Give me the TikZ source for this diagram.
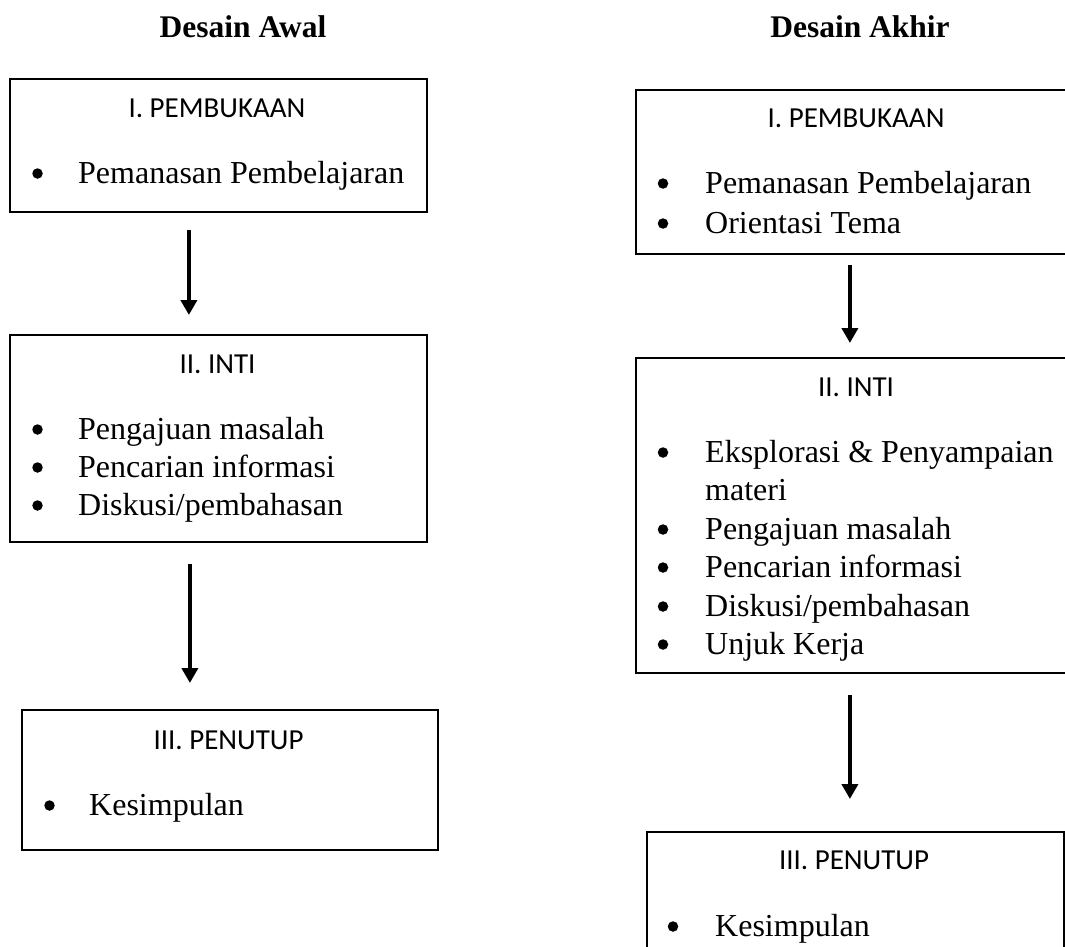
\documentclass[tikz,border=0pt]{standalone}
\usepackage{fontspec}
\setmainfont{Liberation Serif}
\newfontfamily\headfont{Carlito}
\usetikzlibrary{arrows.meta}
\begin{document}
\begin{tikzpicture}[x=1pt,y=-1pt,
  box/.style={draw, line width=1.8pt, rectangle, inner sep=0pt, anchor=north west},
  arr/.style={line width=4pt, -{Triangle[length=15pt,width=16pt]}},
  head/.style={font=\headfont\fontsize{29}{34}\selectfont, anchor=base, inner sep=0pt},
  item/.style={font=\fontsize{32}{38}\selectfont, anchor=base west, inner sep=0pt},
  bul/.style={circle, fill, inner sep=0pt, minimum size=10.5pt, yshift=9.5pt},
  ttl/.style={font=\bfseries\fontsize{31.5}{36}\selectfont, anchor=base, inner sep=0pt}]
\useasboundingbox (0,0) rectangle (1065,947);
\begin{scope}
\clip (0,0) rectangle (1065,947);
% titles
\node[ttl] (t1) at (243,38) {Desain Awal};
\node[ttl] (t2) at (860,38) {Desain Akhir};
% left boxes
\node[box, minimum width=417pt, minimum height=133pt] (L1) at (9,78) {};
\node[box, minimum width=417pt, minimum height=207pt] (L2) at (9,334) {};
\node[box, minimum width=416pt, minimum height=140pt] (L3) at (21,709) {};
% right boxes
\node[box, minimum width=460pt, minimum height=164pt] (R1) at (635,89) {};
\node[box, minimum width=460pt, minimum height=315pt] (R2) at (635,357) {};
\node[box, minimum width=417pt, minimum height=140pt] (R3) at (646,831) {};
% left texts
\node[head] (L1h) at (217,118) {I. PEMBUKAAN};
\node[bul] (L1b1) at (37.5,183) {};
\node[item] (L1i1) at (78,183) {Pemanasan Pembelajaran};
\node[head] (L2h) at (217.5,373) {II. INTI};
\node[bul] (L2b1) at (37.5,439) {};
\node[item] (L2i1) at (78,439) {Pengajuan masalah};
\node[bul] (L2b2) at (37.5,477) {};
\node[item] (L2i2) at (78,477) {Pencarian informasi};
\node[bul] (L2b3) at (37.5,515) {};
\node[item] (L2i3) at (78,515) {Diskusi/pembahasan};
\node[head] (L3h) at (228.5,749) {III. PENUTUP};
\node[bul] (L3b1) at (49.5,815) {};
\node[item] (L3i1) at (89,815) {Kesimpulan};
% right texts
\node[head] (R1h) at (856,128) {I. PEMBUKAAN};
\node[bul] (R1b1) at (663,193) {};
\node[item] (R1i1) at (705,193) {Pemanasan Pembelajaran};
\node[bul] (R1b2) at (663,233) {};
\node[item] (R1i2) at (705,233) {Orientasi Tema};
\node[head] (R2h) at (856,396) {II. INTI};
\node[bul] (R2b1) at (663,462) {};
\node[item] (R2i1) at (705,462) {Eksplorasi \& Penyampaian};
\node[item] (R2i1b) at (705,500) {materi};
\node[bul] (R2b2) at (663,539) {};
\node[item] (R2i2) at (705,539) {Pengajuan masalah};
\node[bul] (R2b3) at (663,577) {};
\node[item] (R2i3) at (705,577) {Pencarian informasi};
\node[bul] (R2b4) at (663,616) {};
\node[item] (R2i4) at (705,616) {Diskusi/pembahasan};
\node[bul] (R2b5) at (663,654) {};
\node[item] (R2i5) at (705,654) {Unjuk Kerja};
\node[head] (R3h) at (854,869) {III. PENUTUP};
\node[bul] (R3b1) at (673,936) {};
\node[item] (R3i1) at (715,936) {Kesimpulan};
% arrows
\draw[arr, shorten <=17pt, shorten >=19pt] ([xshift=-29.5pt]L1.south) -- ([xshift=-29.5pt]L2.north);
\draw[arr, shorten <=21pt, shorten >=26pt] ([xshift=-28.5pt]L2.south) -- ([xshift=-28.5pt]L2.south |- L3.north);
\draw[arr, shorten <=10pt, shorten >=14pt] ([xshift=-16pt]R1.south) -- ([xshift=-16pt]R2.north);
\draw[arr, shorten <=21pt, shorten >=32pt] ([xshift=-16pt]R2.south) -- ([xshift=-16pt]R2.south |- R3.north);
\end{scope}
\end{tikzpicture}
\end{document}
